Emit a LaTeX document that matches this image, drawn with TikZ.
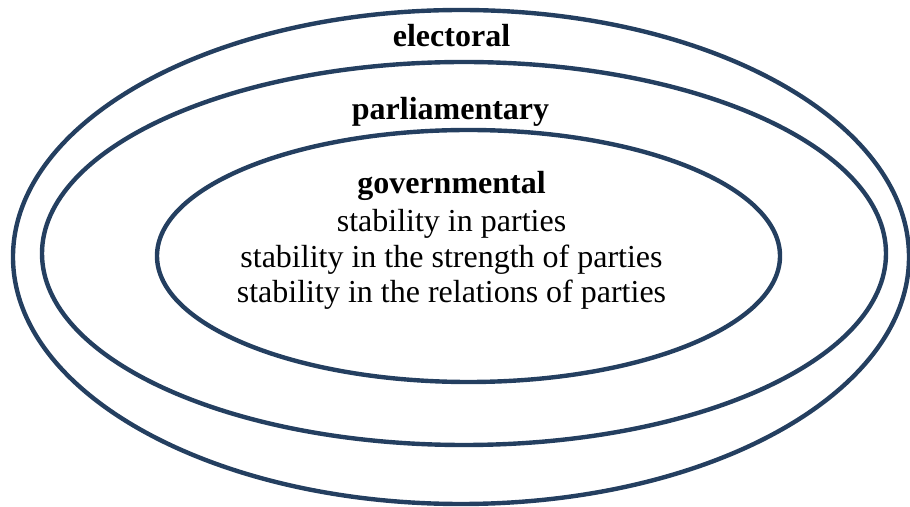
\documentclass[tikz,border=0pt]{standalone}
\usepackage{fontspec}
\setmainfont{Liberation Serif}
\definecolor{ringblue}{RGB}{36,63,96}
\begin{document}
\begin{tikzpicture}[x=0.5pt,y=-0.5pt,
  ring/.style={draw=ringblue,line width=2.2pt},
  lbl/.style={inner sep=0pt,anchor=base,font=\fontsize{16}{19}\selectfont},
  title/.style={lbl,font=\fontsize{16}{19}\selectfont\bfseries}]
\useasboundingbox (0,0) rectangle (910,507);
\draw[ring] (461,257) ellipse [x radius=448, y radius=247];
\draw[ring] (464,253.5) ellipse [x radius=422, y radius=191.5];
\draw[ring] (468.5,256) ellipse [x radius=311.5, y radius=126];
\node[title] (electoral) at (451.5,46.5) {electoral};
\node[title] (parl) at (450.5,119.5) {parliamentary};
\node[title] (gov) at (451.5,194) {governmental};
\node[lbl] (l1) at (451.5,231.5) {stability in parties};
\node[lbl] (l2) at (451.5,267.5) {stability in the strength of parties};
\node[lbl] (l3) at (451.5,303) {stability in the relations of parties};
\end{tikzpicture}
\end{document}
